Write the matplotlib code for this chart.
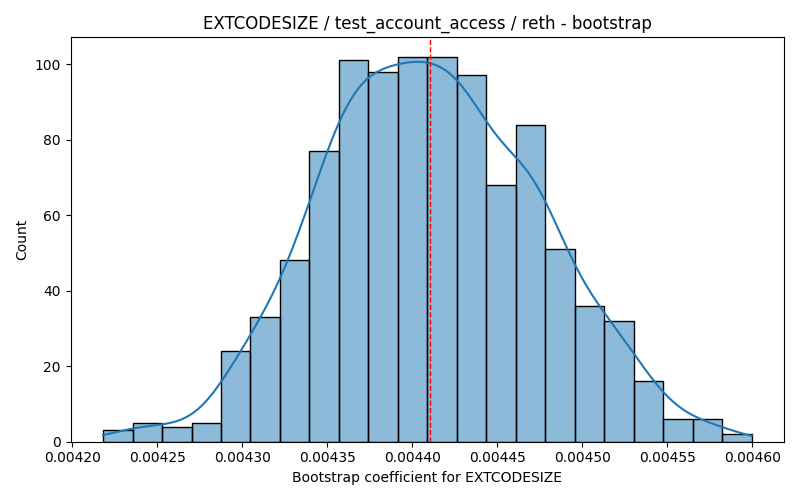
import numpy as np
import matplotlib
matplotlib.use("Agg")
import matplotlib.pyplot as plt
import seaborn as sns

# bootstrap histogram: 22 bins, 1000 samples
bin_start = 0.0042182
bin_end = 0.0045996
n_bins = 22
counts = [3, 5, 4, 5, 24, 33, 48, 77, 101, 98, 102,
          102, 97, 68, 84, 51, 36, 32, 16, 6, 6, 2]
point_estimate = 0.0044102

edges = np.linspace(bin_start, bin_end, n_bins + 1)
centers = (edges[:-1] + edges[1:]) / 2

fig, ax = plt.subplots(figsize=(8, 5), dpi=100)
# weighted bin centres -> scott bw is computed on effective n, so shrink it back
sns.histplot(x=centers, weights=counts, bins=list(edges), kde=True,
             kde_kws={"bw_adjust": 0.42, "cut": 3, "clip": (bin_start, bin_end)},
             ax=ax)
ax.axvline(point_estimate, color="red", linestyle="--", linewidth=1)
ax.set_title("EXTCODESIZE / test_account_access / reth - bootstrap")
ax.set_xlabel("Bootstrap coefficient for EXTCODESIZE")
ax.set_ylabel("Count")
ticks = np.arange(0.00420, 0.004601, 0.00005)
ax.set_xticks(ticks)
ax.set_xticklabels([f"{v:.5f}" for v in ticks])
plt.tight_layout()
plt.savefig("out.png")
